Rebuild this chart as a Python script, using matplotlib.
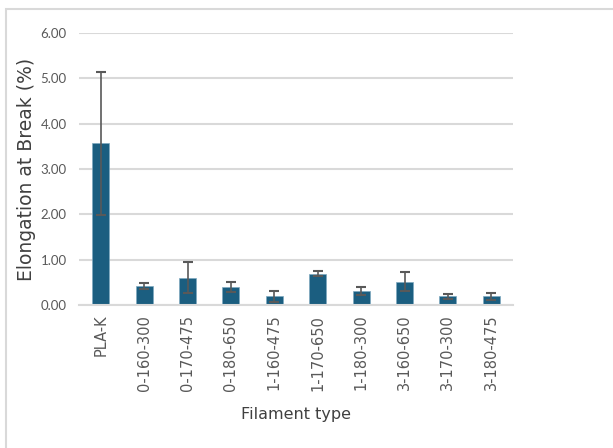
import matplotlib
matplotlib.use("Agg")
import matplotlib.pyplot as plt
from matplotlib.patches import Rectangle

categories = ["PLA-K", "0-160-300", "0-170-475", "0-180-650", "1-160-475",
              "1-170-650", "1-180-300", "3-160-650", "3-170-300", "3-180-475"]
values = [3.57, 0.42, 0.60, 0.40, 0.19, 0.69, 0.31, 0.51, 0.19, 0.19]
errors = [1.58, 0.07, 0.34, 0.11, 0.12, 0.06, 0.09, 0.21, 0.05, 0.07]
yticks = [0, 1, 2, 3, 4, 5, 6]

plt.rcParams['font.family'] = ['DejaVu Sans']

fig = plt.figure(figsize=(6.13, 4.48), dpi=100)
fig.patches.append(Rectangle((6/613, -0.1), 1.2, (448-9)/448 + 0.1,
                             transform=fig.transFigure, fill=False,
                             edgecolor="#d9d9d9", linewidth=1.5, zorder=-1))

ax = fig.add_axes([79/613, (448-305)/448, 434/613, 272/448])
x = list(range(len(categories)))
ax.bar(x, values, width=0.39, color="#1b5e80", edgecolor="#7fa9c0", linewidth=0.5, zorder=2)
ax.errorbar(x, values, yerr=errors, fmt="none", ecolor="#595959", elinewidth=1.2,
            capsize=3.5, capthick=1.5, zorder=3)

ax.set_xlim(-0.5, len(categories) - 0.5)
ax.set_ylim(0, 6)
ax.set_yticks(yticks)
ax.set_yticklabels([f"{t:.2f}" for t in yticks], family="Lato", fontsize=9.5)
ax.yaxis.grid(True, color="#d9d9d9", linewidth=1.5, zorder=0)
ax.set_axisbelow(True)
for s in ["top", "right", "left"]:
    ax.spines[s].set_visible(False)
ax.spines["bottom"].set_color("#d9d9d9")
ax.spines["bottom"].set_linewidth(1.5)
ax.tick_params(axis="both", length=0, colors="#595959")
ax.tick_params(axis="y", pad=9)
ax.tick_params(axis="x", pad=7)
ax.set_xticks(x)
ax.set_xticklabels(categories, rotation=90, fontsize=10.5)
ax.set_ylabel("Elongation at Break (%)", fontsize=13.5, color="#404040", labelpad=3)
ax.set_xlabel("Filament type", fontsize=11.5, color="#404040", labelpad=12)

fig.savefig("out.png", dpi=100)
